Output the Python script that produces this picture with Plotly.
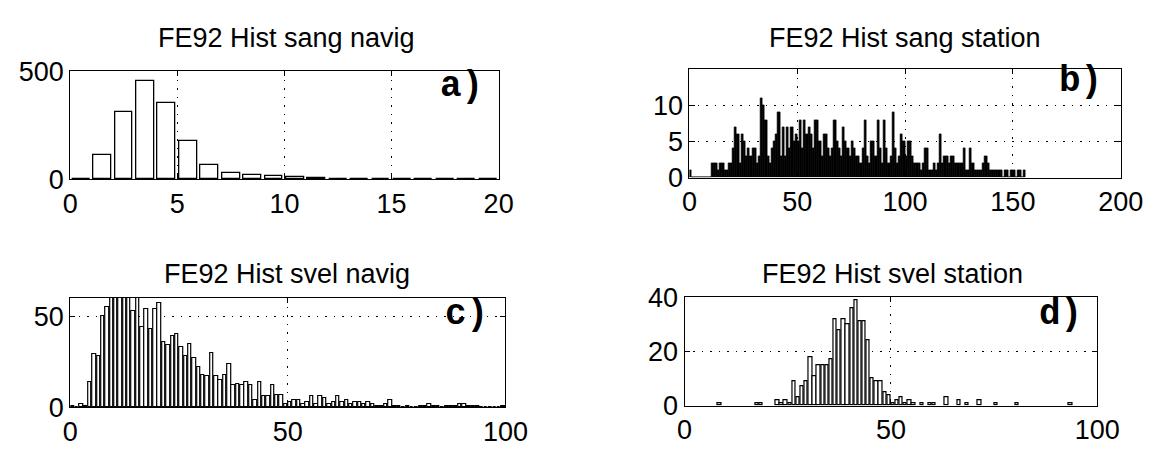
import plotly.graph_objects as go

W, H = 1169, 457

# ---------------- data ----------------
# a) FE92 Hist sang navig  (bins of width 1, from 0)
sang_navig_counts = [4, 112, 313, 452, 353, 175, 68, 30, 22, 17, 10, 8, 3, 2, 0, 0, 0, 0, 0, 0]

# b) FE92 Hist sang station (bins of width 1, from 0)
sang_station_counts = [
    1, 0, 0, 0, 0, 0, 0, 0, 0, 0,
    2, 2, 2, 1, 2, 2, 1, 1, 2, 2,
    4, 7, 6, 2, 6, 5, 3, 4, 3, 4,
    4, 2, 3, 11, 10, 8, 3, 2, 4, 5,
    6, 9, 3, 7, 3, 7, 4, 7, 5, 6,
    5, 8, 4, 8, 6, 7, 6, 4, 8, 8,
    5, 3, 6, 6, 4, 3, 4, 8, 5, 4,
    3, 7, 5, 4, 3, 5, 4, 3, 3, 2,
    4, 8, 3, 2, 5, 5, 3, 8, 4, 2,
    8, 4, 2, 3, 9, 4, 2, 3, 6, 5,
    3, 5, 5, 3, 2, 2, 2, 1, 2, 4,
    4, 1, 1, 2, 1, 2, 6, 2, 3, 3,
    2, 3, 3, 2, 2, 2, 2, 4, 1, 1,
    4, 2, 1, 1, 1, 1, 2, 3, 2, 1,
    1, 1, 1, 1, 1, 0, 1, 1, 0, 1,
    1, 0, 1, 1, 0, 1,
]

# c) FE92 Hist svel navig (bins of width 1, from 0)
svel_navig_counts = [
    1, 0, 2, 1, 14, 29, 28, 50, 55, 75,
    80, 90, 70, 65, 53, 62, 44, 54, 43, 54,
    57, 36, 34, 39, 40, 33, 28, 35, 27, 22,
    18, 17, 30, 17, 15, 18, 24, 12, 13, 12,
    14, 12, 4, 14, 6, 6, 12, 7, 7, 2,
    3, 4, 4, 2, 3, 6, 2, 6, 5, 2,
    3, 6, 3, 4, 2, 3, 3, 2, 3, 2,
    1, 1, 2, 4, 1, 1, 0, 1, 0, 0,
    1, 1, 2, 1, 1, 0, 1, 1, 1, 2,
    2, 1, 1, 1, 0, 0, 0, 0, 0, 1,
]

# d) FE92 Hist svel station (non-empty bins only)
svel_station_bins = [8, 17, 18, 22, 23, 24, 25, 26, 27, 28, 29, 30, 31, 32, 33, 34, 35,
                     36, 37, 38, 39, 40, 41, 42, 43, 44, 45, 46, 47, 48, 49, 50, 51,
                     52, 53, 54, 55, 57, 59, 60, 63, 66, 68, 71, 75, 80, 93]
svel_station_counts = [1, 1, 1, 2, 1, 2, 1, 9, 3, 7, 9, 18, 11, 15, 15, 15, 17,
                       32, 28, 32, 30, 36, 39, 31, 31, 24, 10, 9, 9, 5, 4, 1, 2,
                       3, 1, 2, 1, 1, 1, 1, 3, 2, 1, 2, 1, 1, 1]

titles = ["FE92 Hist sang navig", "FE92 Hist sang station",
          "FE92 Hist svel navig", "FE92 Hist svel station"]
panel_labels = ["a)", "b)", "c)", "d)"]

x_ranges = [[0, 20], [0, 200], [0, 100], [0, 100]]
x_ticks = [[0, 5, 10, 15, 20], [0, 50, 100, 150, 200], [0, 50, 100], [0, 50, 100]]
y_ranges = [[0, 500], [0, 15], [0, 60], [0, 40]]
y_ticks = [[0, 500], [0, 5, 10], [0, 50], [0, 20, 40]]

# ---------------- layout helpers ----------------
# plot boxes in pixels: (left, right, top, bottom)
boxes = [(64, 504, 60, 176), (700, 1143, 58, 174),
         (64, 511, 303, 420), (695, 1119, 302, 418)]
title_pos = [(286, 25), (921, 25), (287, 277), (909, 277)]
label_pos = [(490, 76), (1126, 71), (495, 321), (1105, 321)]


def fx(p):
    return p / W


def fy(p):
    return 1 - p / H


fig = go.Figure()

# a
fig.add_trace(go.Bar(x=[i + 0.5 for i in range(len(sang_navig_counts))], y=sang_navig_counts,
                     width=0.83, marker=dict(color="white", line=dict(color="black", width=1.3)),
                     xaxis="x", yaxis="y"))
# b
fig.add_trace(go.Bar(x=[i + 0.5 for i in range(len(sang_station_counts))], y=sang_station_counts,
                     width=1.0, marker=dict(color="black", line=dict(color="black", width=0.6)),
                     xaxis="x2", yaxis="y2"))
# c
fig.add_trace(go.Bar(x=[i + 0.5 for i in range(len(svel_navig_counts))], y=svel_navig_counts,
                     width=0.8, marker=dict(color="white", line=dict(color="black", width=1.2)),
                     xaxis="x3", yaxis="y3"))
# d
fig.add_trace(go.Bar(x=[b + 0.5 for b in svel_station_bins], y=svel_station_counts,
                     width=0.8, marker=dict(color="white", line=dict(color="black", width=1.2)),
                     xaxis="x4", yaxis="y4"))

tick_font = dict(family="Liberation Sans, Arial, Helvetica, sans-serif", size=27, color="black")
axis_common = dict(showline=True, linecolor="black", linewidth=1.2, mirror="ticks",
                   ticks="inside", ticklen=5, tickwidth=1, tickcolor="black",
                   showgrid=True, gridcolor="black", gridwidth=1.2, griddash="1.5px,7px",
                   zeroline=False, tickfont=tick_font, fixedrange=True)

layout = dict(width=W, height=H, margin=dict(l=0, r=0, t=0, b=0),
              paper_bgcolor="white", plot_bgcolor="white", showlegend=False,
              bargap=0, annotations=[])

for k in range(4):
    l, r, t, b = boxes[k]
    sx = "" if k == 0 else str(k + 1)
    layout["xaxis" + sx] = dict(domain=[fx(l), fx(r)], range=x_ranges[k], tickvals=x_ticks[k],
                                anchor="y" + sx, **axis_common)
    layout["yaxis" + sx] = dict(domain=[fy(b), fy(t)], range=y_ranges[k], tickvals=y_ticks[k],
                                anchor="x" + sx, **axis_common)
    tx, ty = title_pos[k]
    layout["annotations"].append(dict(text=titles[k], xref="paper", yref="paper",
                                      x=fx(tx), y=fy(ty), xanchor="center", yanchor="middle",
                                      showarrow=False,
                                      font=dict(family="Liberation Sans, Arial, sans-serif",
                                                size=27, color="black")))
    lx, ly = label_pos[k]
    layout["annotations"].append(dict(text="<b>" + panel_labels[k] + "</b>", xref="paper", yref="paper",
                                      x=fx(lx), y=fy(ly), xanchor="right", yanchor="middle",
                                      showarrow=False,
                                      font=dict(family="Courier New, Liberation Mono, monospace",
                                                size=36, color="black")))

fig.update_layout(**layout)
fig.write_html("out.html")
